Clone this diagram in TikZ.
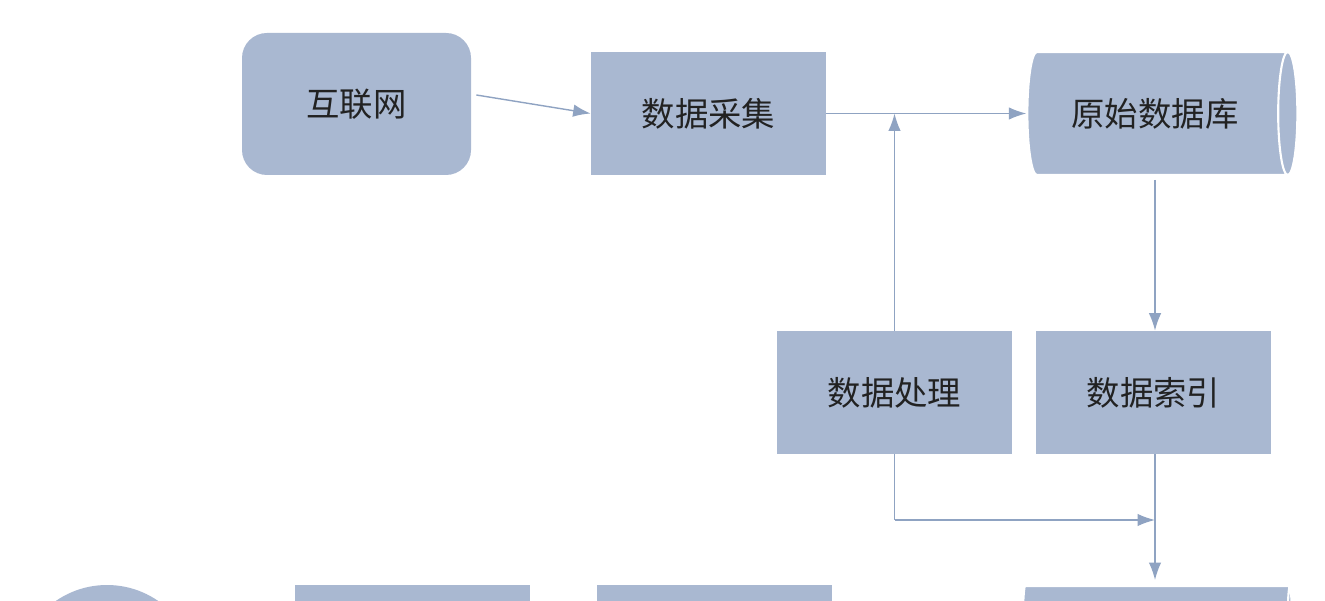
\documentclass[tikz,border=0pt]{standalone}
\usepackage{fontspec}
\newfontfamily\cjk{Noto Sans CJK SC}
\usetikzlibrary{shapes.geometric, arrows.meta}
\definecolor{boxfill}{HTML}{A9B8D1}
\definecolor{linecol}{HTML}{8FA3C2}
\definecolor{txtcol}{HTML}{222222}
\tikzset{
  process/.style={rectangle, minimum width=4.7cm, minimum height=2.46cm, fill=boxfill, text=txtcol, font=\cjk\fontsize{19}{22}\selectfont},
  netbox/.style={process, rounded corners=0.5cm, minimum width=4.58cm, minimum height=2.84cm},
  dbase/.style={process, cylinder, shape aspect=0.45, minimum width=2.46cm, minimum height=5.4cm, cylinder uses custom fill, cylinder body fill=boxfill, cylinder end fill=boxfill!60, draw=white, line width=1.2pt},
  arrow/.style={draw=linecol, thick, -{Latex[length=0.35cm,width=0.25cm]}},
  line/.style={draw=linecol, thick}
}
\begin{document}
\begin{tikzpicture}
    \useasboundingbox (0,0) rectangle (26.5,-12.02);
    \clip (0,0) rectangle (26.5,-12.02);
    \fill[white] (0,0) rectangle (26.5,-12.02);

    % Nodes
    \node (internet) [netbox] at (7.13,-2.08) {互联网};
    \node (collect) [process] at (14.17,-2.27) {数据采集};
    \node (rawdb) [dbase] at (23.1,-2.27) {原始数据库};
    \node (handle) [process] at (17.89,-7.85) {数据处理};
    \node (index) [process] at (23.07,-7.85) {数据索引};

    % bottom row, cut off by the edge
    \node (round) [circle, fill=boxfill, minimum size=3.6cm] at (2.14,-13.5) {};
    \node (boxa) [process, anchor=north] at (8.25,-11.7) {};
    \node (boxb) [process, anchor=north] at (14.29,-11.7) {};
    \node (lowdb) [dbase, anchor=north] at (23.1,-11.7) {};

    \coordinate (join) at (17.89,-2.27);
    \coordinate (bend) at (17.89,-10.4);
    \coordinate (meet) at (23.1,-10.4);

    % Arrows
    \draw [arrow] (internet.east) ++(0.1,0.18) -- (collect.west |- 0,-2.27);
    \draw [arrow] (collect) -- (rawdb);
    \draw [arrow] (handle) -- (join);
    \draw [arrow] (23.1,-3.6) -- (index.north -| 23.1,0);
    \draw [line] (handle) -- (bend);
    \draw [arrow] (bend) -- (meet);
    \draw [arrow] (index.south -| 23.1,0) -- (23.1,-11.6);

\end{tikzpicture}
\end{document}
